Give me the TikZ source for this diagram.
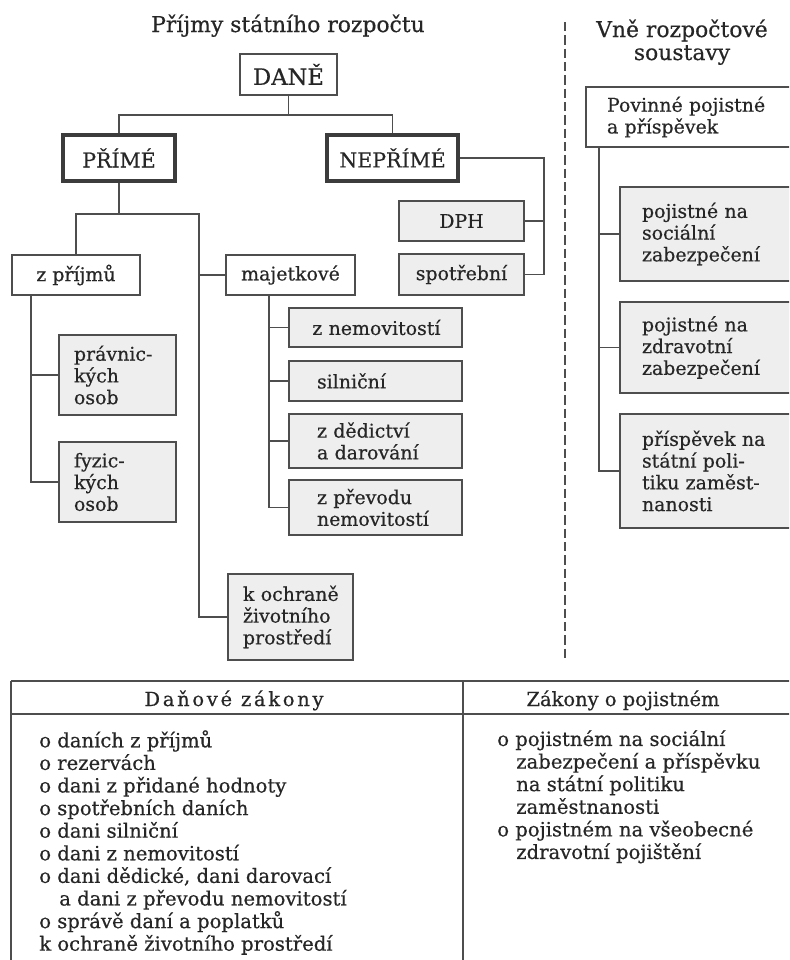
\documentclass[tikz,border=0pt]{standalone}
\usepackage{fontspec}
\setmainfont{DejaVu Serif}[FakeBold=0.5]
\definecolor{ink}{HTML}{262626}
\definecolor{edge}{HTML}{4E4E4E}
\definecolor{fillg}{HTML}{EEEEEE}
\newcommand\ind[1]{\hspace*{#1pt}}
\begin{document}
\begin{tikzpicture}[x=0.75pt,y=-0.75pt,
  box/.style={draw=edge, line width=1.2pt, inner sep=0pt, text=ink, align=center,
    font=\fontsize{14.2}{16.3}\selectfont},
  gbox/.style={box, fill=fillg},
  lft/.style={align=left},
  tbox/.style={box, line width=3pt, draw=ink!90, font=\fontsize{15.4}{18}\selectfont},
  conn/.style={draw=edge, line width=1.2pt},
  ttl/.style={anchor=base, text=ink, font=\fontsize{16.4}{19}\selectfont},
  tline/.style={draw=edge, line width=1.3pt},
  lst/.style={anchor=north west, align=left, inner sep=0pt, text=ink, font=\fontsize{14.7}{16.95}\selectfont}
]
\clip (0,0) rectangle (789,960);
\fill[white] (0,0) rectangle (789,960);

% titles
\node[ttl] (t1) at (288,32) {Příjmy státního rozpočtu};
\node[ttl] (t2) at (682,37) {Vně rozpočtové};
\node[ttl] (t3) at (682,60) {soustavy};

% divider
\coordinate (d1) at (565,22);
\coordinate (d2) at (565,662);
\draw[draw=edge, line width=1.2pt, dash pattern=on 7pt off 3pt] (d1) -- (d2);

% left tree
\node[box, minimum width=72.75pt, minimum height=30.75pt, font=\fontsize{17}{20}\selectfont] (dane) at (288.5,74.5) {DANĚ};
\node[tbox, minimum width=84pt, minimum height=34.5pt] (prime) at (119,158) {PŘÍMÉ};
\node[tbox, minimum width=98.25pt, minimum height=34.5pt] (neprime) at (392.5,158) {NEPŘÍMÉ};
\node[gbox, minimum width=93.75pt, minimum height=30pt] (dph) at (461.5,221) {DPH};
\node[gbox, minimum width=93.75pt, minimum height=30.75pt] (spot) at (461.5,274.5) {spotřební};
\node[box, minimum width=96pt, minimum height=30pt] (zprijmu) at (76,275) {z příjmů};
\node[box, minimum width=96.75pt, minimum height=30pt] (majet) at (290.5,275) {majetkové};
\node[gbox, lft, text width=87.75pt, minimum height=60pt] (prav) at (117.5,375) {\ind{11.25}právnic-\\\ind{11.25}kých\\\ind{11.25}osob};
\node[gbox, lft, text width=87.75pt, minimum height=60pt] (fyz) at (117.5,482) {\ind{11.25}fyzic-\\\ind{11.25}kých\\\ind{11.25}osob};
\node[gbox, lft, text width=129.75pt, minimum height=29.25pt] (nemov) at (375.5,327.5) {\ind{17.5}z nemovitostí};
\node[gbox, lft, text width=129.75pt, minimum height=30pt] (siln) at (375.5,381) {\ind{21}silniční};
\node[gbox, lft, text width=129.75pt, minimum height=40.5pt] (dedic) at (375.5,441) {\ind{21}z dědictví\\\ind{21}a darování};
\node[gbox, lft, text width=129.75pt, minimum height=41.25pt] (prevod) at (375.5,507.5) {\ind{21}z převodu\\\ind{21}nemovitostí};
\node[gbox, lft, text width=93.75pt, minimum height=64.5pt] (ochr) at (290.5,617) {\ind{11.25}k ochraně\\\ind{11.25}životního\\\ind{11.25}prostředí};

% right tree
\node[box, lft, text width=160.5pt, minimum height=45pt] (povin) at (693,117) {\ind{15.75}Povinné pojistné\\\ind{15.75}a příspěvek};
\node[gbox, lft, text width=135pt, minimum height=70.5pt] (soc) at (710,234) {\ind{16.5}pojistné na\\\ind{16.5}sociální\\\ind{16.5}zabezpečení};
\node[gbox, lft, text width=135pt, minimum height=68.25pt] (zdrav) at (710,347.5) {\ind{16.5}pojistné na\\\ind{16.5}zdravotní\\\ind{16.5}zabezpečení};
\node[gbox, lft, text width=135pt, minimum height=85.5pt] (prisp) at (710,471) {\ind{16.5}příspěvek na\\\ind{16.5}státní poli-\\\ind{16.5}tiku zaměst-\\\ind{16.5}nanosti};

% connectors
\coordinate (j1) at (288.5,115);
\draw[conn] (dane.south) -- (j1);
\draw[conn] (prime.north) |- (j1) -| (neprime.north);
\coordinate (b1) at (544,274.5);
\draw[conn] (neprime.east) -| (b1) -- (spot.east);
\draw[conn] (dph.east) -- (dph.east -| b1);
\coordinate (j2) at (119,214);
\coordinate (v1) at (199,214);
\draw[conn] (prime.south) -- (j2);
\draw[conn] (zprijmu.north) |- (v1) |- (ochr.west);
\draw[conn] (majet.west) -- (majet.west -| v1);
\coordinate (v2) at ([xshift=15pt]zprijmu.south west);
\draw[conn] (v2) |- (fyz.west);
\draw[conn] (prav.west) -- (prav.west -| v2);
\coordinate (v3) at ([xshift=-16.125pt]majet.south);
\draw[conn] (v3) |- (prevod.west);
\draw[conn] (nemov.west) -- (nemov.west -| v3);
\draw[conn] (siln.west) -- (siln.west -| v3);
\draw[conn] (dedic.west) -- (dedic.west -| v3);
\coordinate (v4) at ([xshift=10.5pt]povin.south west);
\draw[conn] (v4) |- (prisp.west);
\draw[conn] (soc.west) -- (soc.west -| v4);
\draw[conn] (zdrav.west) -- (zdrav.west -| v4);

% table
\coordinate (ta) at (11,681);
\coordinate (tb) at (800,681);
\coordinate (tc) at (11,714);
\coordinate (td) at (800,714);
\coordinate (te) at (11,970);
\coordinate (tf) at (463,681);
\coordinate (tg) at (463,970);
\draw[draw=edge, line width=2.2pt] (ta) -- (tb);
\draw[draw=edge, line width=1.8pt] (tc) -- (td);
\draw[tline] (ta) -- (te);
\draw[tline] (tf) -- (tg);
\node[ttl, font=\fontsize{14.6}{17}\selectfont] (h1) at (234,706) {\addfontfeature{LetterSpace=14}Daňové zákony};
\node[ttl, font=\fontsize{14.6}{17}\selectfont] (h2) at (623,706) {Zákony o pojistném};
\node[lst] (l1) at (39,730) {o daních z příjmů\\o rezervách\\o dani z přidané hodnoty\\o spotřebních daních\\o dani silniční\\o dani z nemovitostí\\o dani dědické, dani darovací\\\ind{15}a dani z převodu nemovitostí\\o správě daní a poplatků\\k ochraně životního prostředí};
\node[lst] (l2) at (497,730) {o pojistném na sociální\\\ind{14.25}zabezpečení a příspěvku\\\ind{14.25}na státní politiku\\\ind{14.25}zaměstnanosti\\o pojistném na všeobecné\\\ind{14.25}zdravotní pojištění};
\end{tikzpicture}
\end{document}
